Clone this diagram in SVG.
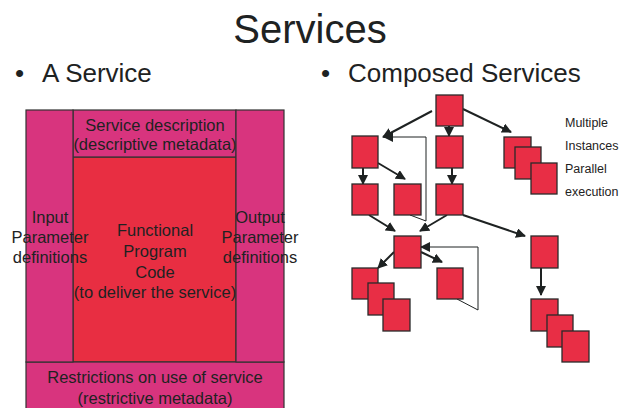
<svg xmlns="http://www.w3.org/2000/svg" width="619" height="408" viewBox="0 0 619 408">
<defs>
<style>
text{font-family:"Liberation Sans",Arial,sans-serif;fill:#1e2222}
.t{font-size:16.5px;text-anchor:middle}
.h{font-size:26px}
.mag{fill:#d8347e;stroke:#333;stroke-width:1.2}
.red{fill:#e82e42;stroke:#333;stroke-width:1.2}
.b{fill:#e82e45;stroke:#2a2a2a;stroke-width:1.3}
.c{stroke:#1e2222;stroke-width:2;fill:none;marker-end:url(#ah)}
.f{stroke:#1e2222;stroke-width:1;fill:none}
</style>
<marker id="ah" viewBox="0 0 10 10" refX="9" refY="5" markerWidth="5" markerHeight="5" orient="auto" markerUnits="strokeWidth">
<path d="M0,0 L10,5 L0,10 z" fill="#1e2222"/>
</marker>
</defs>
<rect width="619" height="408" fill="#fff"/>
<text x="310" y="43" style="font-size:40px;text-anchor:middle">Services</text>
<text class="h" x="15" y="82">•</text><text class="h" x="42" y="82">A Service</text>
<text class="h" x="321" y="82">•</text><text class="h" x="348" y="82">Composed Services</text>

<g id="service">
<g id="code"><rect class="red" x="73" y="157" width="163" height="205"/>
<text class="t" x="155" y="236">Functional</text><text class="t" x="155" y="257">Program</text><text class="t" x="155" y="278">Code</text><text class="t" x="155" y="298">(to deliver the service)</text></g>
<g id="desc"><rect class="mag" x="73" y="110" width="163" height="47"/>
<text class="t" x="155" y="131">Service description</text><text class="t" x="155" y="150">(descriptive metadata)</text></g>
<g id="restrict"><rect class="mag" x="26" y="362" width="258" height="50"/>
<text class="t" x="155" y="383">Restrictions on use of service</text><text class="t" x="155" y="404">(restrictive metadata)</text></g>
<g id="input"><rect class="mag" x="26" y="110" width="47" height="252"/>
<text class="t" x="50" y="223">Input</text><text class="t" x="50" y="243">Parameter</text><text class="t" x="50" y="263">definitions</text></g>
<g id="output"><rect class="mag" x="236" y="110" width="48" height="252"/>
<text class="t" x="260" y="223">Output</text><text class="t" x="260" y="243">Parameter</text><text class="t" x="260" y="263">definitions</text></g>
</g>

<g id="connectors">
<line class="c" x1="432" y1="111" x2="383" y2="137"/>
<line class="c" x1="449" y1="126" x2="449" y2="136"/>
<line class="c" x1="463" y1="109" x2="511" y2="132"/>
<polyline class="f" points="410,215 426,221 426,137 392,137"/>
<line class="c" x1="392" y1="137" x2="384" y2="137"/>
<line class="c" x1="363" y1="168" x2="363" y2="184"/>
<line class="c" x1="378" y1="163" x2="405" y2="179"/>
<line class="c" x1="452" y1="168" x2="452" y2="184"/>
<line class="c" x1="369" y1="215" x2="395" y2="231"/>
<line class="c" x1="447" y1="215" x2="420" y2="231"/>
<line class="c" x1="463" y1="215" x2="525" y2="236"/>
<polyline class="f" points="457,299 478,310 478,247 430,247"/>
<line class="c" x1="430" y1="247" x2="421" y2="247"/>
<line class="c" x1="421" y1="252" x2="442" y2="262"/>
<line class="c" x1="394" y1="252" x2="378" y2="268"/>
<line class="c" x1="541" y1="268" x2="541" y2="295"/>
</g>

<g id="nA"><rect class="b" x="436" y="95" width="27" height="31"/></g>
<g id="nB"><rect class="b" x="352" y="136" width="26" height="32"/></g>
<g id="nC"><rect class="b" x="436" y="136" width="27" height="32"/></g>
<g id="nD"><rect class="b" x="352" y="184" width="26" height="31"/></g>
<g id="nE"><rect class="b" x="394" y="184" width="27" height="31"/></g>
<g id="nF"><rect class="b" x="436" y="184" width="27" height="31"/></g>
<g id="nMulti">
<rect class="b" x="504" y="137" width="27" height="31"/>
<rect class="b" x="515" y="147" width="26" height="32"/>
<rect class="b" x="531" y="163" width="26" height="31"/>
</g>
<g id="nG"><rect class="b" x="394" y="236" width="27" height="32"/></g>
<g id="nH"><rect class="b" x="437" y="268" width="26" height="31"/></g>
<g id="nStackL">
<rect class="b" x="352" y="268" width="26" height="31"/>
<rect class="b" x="368" y="283" width="26" height="32"/>
<rect class="b" x="383" y="299" width="27" height="32"/>
</g>
<g id="nI"><rect class="b" x="531" y="236" width="27" height="32"/></g>
<g id="nStackR">
<rect class="b" x="531" y="299" width="27" height="32"/>
<rect class="b" x="547" y="315" width="26" height="32"/>
<rect class="b" x="562" y="331" width="27" height="31"/>
</g>
<g id="labels" style="font-size:12.5px">
<text x="565" y="127">Multiple</text>
<text x="565" y="150">Instances</text>
<text x="565" y="173">Parallel</text>
<text x="565" y="196">execution</text>
</g>
</svg>
